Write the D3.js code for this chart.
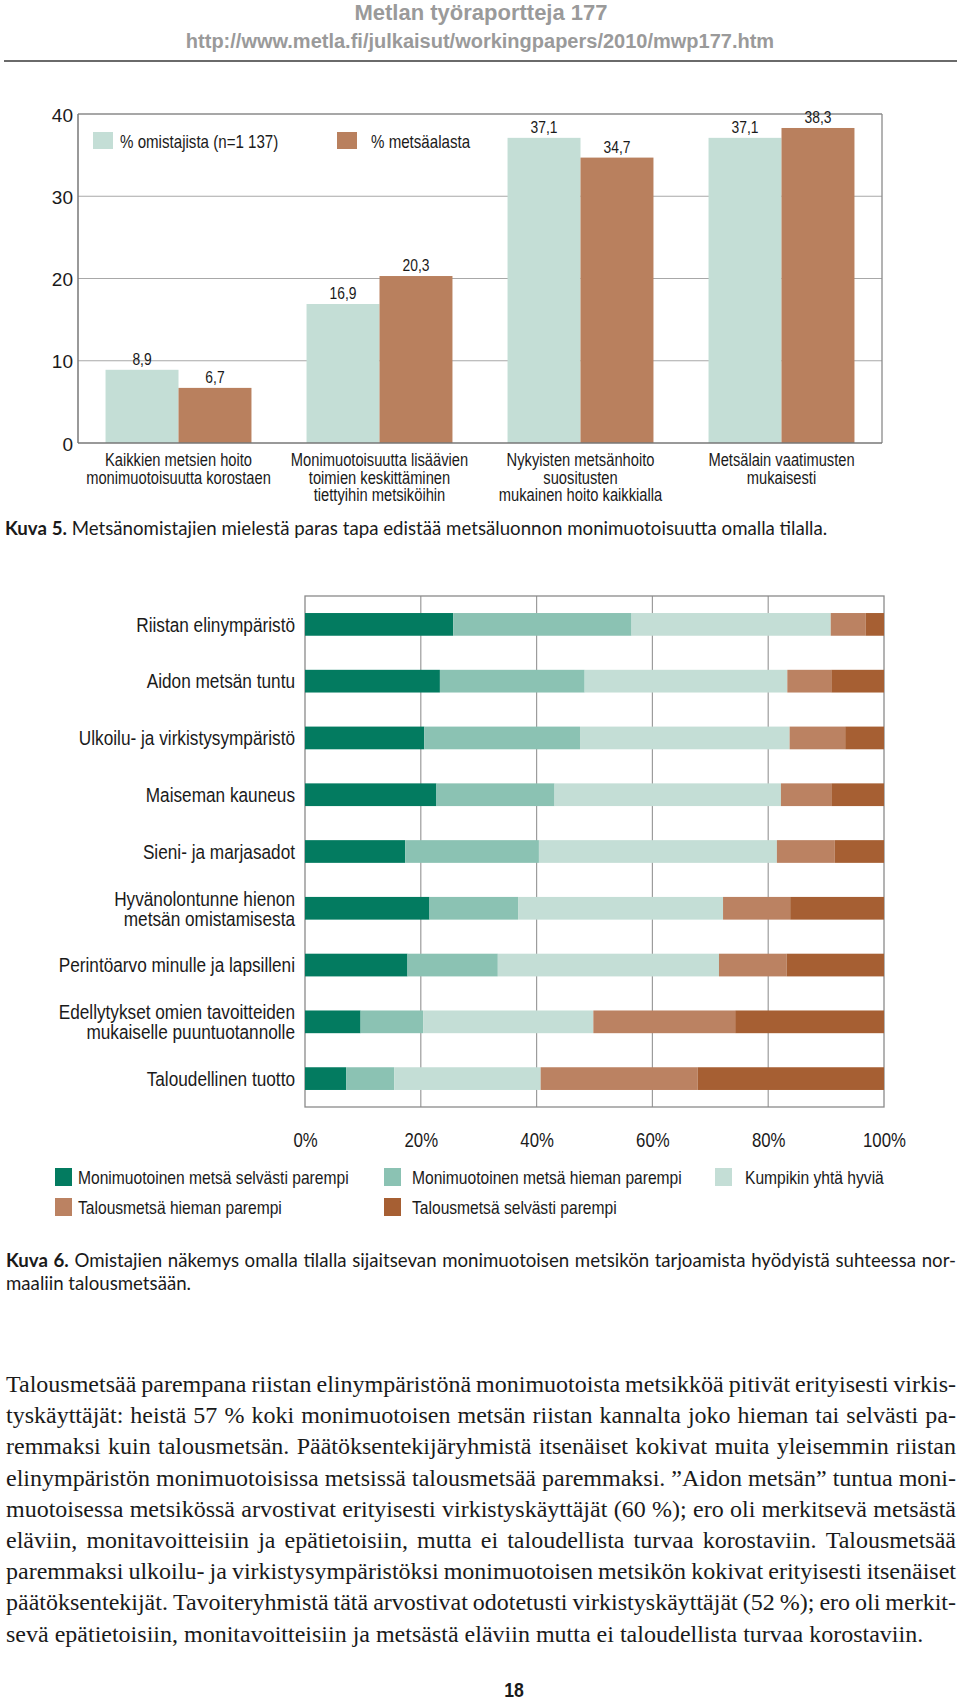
<!DOCTYPE html>
<html><head><meta charset="utf-8">
<script src="https://cdn.jsdelivr.net/npm/d3@7"></script>
<style>body{margin:0;background:#fff}svg{display:block}</style>
</head><body>
<script>
// ---------- DATA ----------
const pageTitle = "Metlan työraportteja 177";
const pageUrl = "http://www.metla.fi/julkaisut/workingpapers/2010/mwp177.htm";

const barCategories = [
  "Kaikkien metsien hoito\nmonimuotoisuutta korostaen",
  "Monimuotoisuutta lisäävien\ntoimien keskittäminen\ntiettyihin metsiköihin",
  "Nykyisten metsänhoito\nsuositusten\nmukainen hoito kaikkialla",
  "Metsälain vaatimusten\nmukaisesti"
];
const barSeriesNames = ["% omistajista (n=1 137)", "% metsäalasta"];
const ownersPct = [8.9, 16.9, 37.1, 37.1];
const areaPct = [6.7, 20.3, 34.7, 38.3];
const barTicks = [0, 10, 20, 30, 40];
const caption5Bold = "Kuva 5.";
const caption5Text = "Metsänomistajien mielestä paras tapa edistää metsäluonnon monimuotoisuutta omalla tilalla.";

const benefitCategories = [
  "Riistan elinympäristö",
  "Aidon metsän tuntu",
  "Ulkoilu- ja virkistysympäristö",
  "Maiseman kauneus",
  "Sieni- ja marjasadot",
  "Hyvänolontunne hienon\nmetsän omistamisesta",
  "Perintöarvo minulle ja lapsilleni",
  "Edellytykset omien tavoitteiden\nmukaiselle puuntuotannolle",
  "Taloudellinen tuotto"
];
const answerLabels = [
  "Monimuotoinen metsä selvästi parempi",
  "Monimuotoinen metsä hieman parempi",
  "Kumpikin yhtä hyviä",
  "Talousmetsä hieman parempi",
  "Talousmetsä selvästi parempi"
];
const clearlyDiverse   = [25.6, 23.3, 20.6, 22.7, 17.3, 21.5, 17.7,  9.6,  7.1];
const slightlyDiverse  = [30.8, 25.0, 26.9, 20.4, 23.1, 15.3, 15.6, 10.8,  8.3];
const bothEqual        = [34.4, 35.0, 36.2, 39.1, 41.1, 35.4, 38.2, 29.4, 25.3];
const slightlyEconomic = [ 6.0,  7.6,  9.6,  8.7, 10.0, 11.6, 11.7, 24.5, 27.1];
const clearlyEconomic  = [ 3.2,  9.1,  6.7,  9.1,  8.5, 16.2, 16.8, 25.7, 32.2];
const percentTicks = [0, 20, 40, 60, 80, 100];
const caption6Bold = "Kuva 6.";
const caption6Lines = [
  "Omistajien näkemys omalla tilalla sijaitsevan monimuotoisen metsikön tarjoamista hyödyistä suhteessa nor-",
  "maaliin talousmetsään."
];
const bodyLines = [
  "Talousmetsää parempana riistan elinympäristönä monimuotoista metsikköä pitivät erityisesti virkis-",
  "tyskäyttäjät: heistä 57 % koki monimuotoisen metsän riistan kannalta joko hieman tai selvästi pa-",
  "remmaksi kuin talousmetsän. Päätöksentekijäryhmistä itsenäiset kokivat muita yleisemmin riistan",
  "elinympäristön monimuotoisissa metsissä talousmetsää paremmaksi. ”Aidon metsän” tuntua moni-",
  "muotoisessa metsikössä arvostivat erityisesti virkistyskäyttäjät (60 %); ero oli merkitsevä metsästä",
  "eläviin, monitavoitteisiin ja epätietoisiin, mutta ei taloudellista turvaa korostaviin. Talousmetsää",
  "paremmaksi ulkoilu- ja virkistysympäristöksi monimuotoisen metsikön kokivat erityisesti itsenäiset",
  "päätöksentekijät. Tavoiteryhmistä tätä arvostivat odotetusti virkistyskäyttäjät (52 %); ero oli merkit-",
  "sevä epätietoisiin, monitavoitteisiin ja metsästä eläviin mutta ei taloudellista turvaa korostaviin."
];
const pageNumber = "18";

// ---------- STYLE ----------
const SANS = "'Liberation Sans',Arial,sans-serif";
const SERIF = "'Liberation Serif','Times New Roman',serif";
const CAP = "Lato,'Open Sans',sans-serif";
const NS = 0.84; // horizontal condensation for the narrow chart font
const cLight = "#c4ded6", cBrown = "#b9805e";
const stackColors = ["#037b60", "#8bc2b3", "#c4ded6", "#bb8262", "#a65f33"];
const ink = "#1a1a1a";

const W = 960, H = 1700;
const svg = d3.select("body").append("svg").attr("width", W).attr("height", H);

// condensed text helper
function ntext(parent, x, y, str, size, anchor, weight) {
  const g = parent.append("g").attr("transform", `translate(${x},${y}) scale(${NS},1)`);
  return g.append("text").attr("x", 0).attr("y", 0).attr("text-anchor", anchor || "start")
    .style("font-family", SANS).style("font-size", size + "px").style("font-weight", weight || 400)
    .attr("fill", ink).text(str);
}

// ---------- HEADER ----------
svg.append("text").attr("x", 481).attr("y", 20).attr("text-anchor", "middle")
  .style("font-family", SANS).style("font-weight", 700).style("font-size", "22px")
  .attr("fill", "#9a9a9a").text(pageTitle);
svg.append("text").attr("x", 480).attr("y", 48).attr("text-anchor", "middle")
  .style("font-family", SANS).style("font-weight", 700).style("font-size", "20px")
  .attr("fill", "#9a9a9a").text(pageUrl);
svg.append("line").attr("x1", 4).attr("x2", 957).attr("y1", 61).attr("y2", 61)
  .attr("stroke", "#6a6a6a").attr("stroke-width", 2);

// ---------- CHART 1 ----------
const c1 = svg.append("g");
const p1 = {l: 78, r: 882, t: 114, b: 443};
const x0 = d3.scaleBand().domain(d3.range(barCategories.length)).range([p1.l, p1.r])
  .paddingInner(0.274).paddingOuter(0.137);
const x1 = d3.scaleBand().domain([0, 1]).range([0, x0.bandwidth()]);
const y1 = d3.scaleLinear().domain([0, 40]).range([p1.b, p1.t]);

c1.selectAll(".grid").data(barTicks.filter(v => v > 0 && v < 40)).enter().append("line")
  .attr("x1", p1.l).attr("x2", p1.r).attr("y1", d => y1(d)).attr("y2", d => y1(d))
  .attr("stroke", "#a8a8a8").attr("stroke-width", 1.2);
c1.append("line").attr("x1", p1.l).attr("x2", p1.r).attr("y1", y1(40)).attr("y2", y1(40))
  .attr("stroke", "#8a8a8a").attr("stroke-width", 1.3);
c1.append("line").attr("x1", p1.r).attr("x2", p1.r).attr("y1", y1(40)).attr("y2", y1(0))
  .attr("stroke", "#8a8a8a").attr("stroke-width", 1.3);

const barData = barCategories.map((c, i) => [ownersPct[i], areaPct[i]]);
const groups = c1.selectAll(".grp").data(barData).enter().append("g")
  .attr("transform", (d, i) => `translate(${x0(i)},0)`);
groups.selectAll("rect").data(d => d).enter().append("rect")
  .attr("x", (d, j) => x1(j)).attr("width", x1.bandwidth())
  .attr("y", d => y1(d)).attr("height", d => y1(0) - y1(d))
  .attr("fill", (d, j) => j === 0 ? cLight : cBrown);
groups.each(function(d) {
  const g = d3.select(this);
  d.forEach((v, j) => {
    ntext(g, x1(j) + x1.bandwidth() / 2, y1(v) - 5, d3.format(".1f")(v).replace(".", ","), 16.5, "middle");
  });
});

// axes lines
c1.append("line").attr("x1", p1.l).attr("x2", p1.l).attr("y1", y1(40)).attr("y2", y1(0))
  .attr("stroke", "#777").attr("stroke-width", 1.5);
c1.append("line").attr("x1", p1.l).attr("x2", p1.r).attr("y1", y1(0)).attr("y2", y1(0))
  .attr("stroke", "#777").attr("stroke-width", 1.5);

const yAxis1 = d3.axisLeft(y1).tickValues(barTicks).tickSize(0).tickPadding(5);
const ya = c1.append("g").attr("transform", `translate(${p1.l},0)`).call(yAxis1);
ya.select(".domain").remove();
ya.selectAll("text").style("font-family", SANS).style("font-size", "19px").attr("fill", ink).attr("dy", "0.38em");

// legend 1
const leg1 = [{x: 93, tx: 120, c: cLight}, {x: 337, tx: 371, c: cBrown}];
barSeriesNames.forEach((n, i) => {
  c1.append("rect").attr("x", leg1[i].x).attr("y", 132).attr("width", 20).attr("height", 17).attr("fill", leg1[i].c);
  ntext(c1, leg1[i].tx, 148, n, 18, "start");
});

// category labels
barCategories.forEach((c, i) => {
  c.split("\n").forEach((ln, k) => {
    ntext(c1, x0(i) + x0.bandwidth() / 2, 466 + k * 17.5, ln, 17.5, "middle");
  });
});

// ---------- helpers for paragraph text ----------
function measure(str, font, size, weight) {
  const t = svg.append("text").style("font-family", font).style("font-size", size + "px")
    .style("font-weight", weight || 400).text(str);
  const w = t.node().getComputedTextLength(); t.remove(); return w;
}
// lays out words on one line; cx = base horizontal condensation of the font
function placeWords(parent, words, x0p, x1p, y, font, size, justify, minGapEm, cx) {
  cx = cx || 1;
  const avail = (x1p - x0p) / cx;
  const t = parent.append("text").attr("y", y).style("font-family", font)
    .style("font-size", size + "px").attr("fill", ink);
  const spans = words.map(w => t.append("tspan").style("font-weight", w.bold ? 700 : 400).text(w.t));
  const widths = spans.map(s => s.node().getComputedTextLength());
  const sp = measure("a a", font, size) - measure("aa", font, size);
  const total = d3.sum(widths);
  let gap = justify && words.length > 1 ? (avail - total) / (words.length - 1) : sp;
  const mg = (minGapEm || 0) * size;
  let sx = 1;
  if (justify && gap < mg) {
    gap = mg;
    sx = avail / (total + mg * (words.length - 1));
  }
  let x = 0;
  spans.forEach((s, i) => { s.attr("x", x); x += widths[i] + gap; });
  t.attr("transform", `translate(${x0p},0) scale(${sx * cx},1)`);
  return t;
}
function toWords(str, boldPrefix) {
  const arr = [];
  if (boldPrefix) boldPrefix.split(" ").forEach(w => arr.push({t: w, bold: true}));
  str.split(" ").forEach(w => arr.push({t: w, bold: false}));
  return arr;
}

// caption 5 (fit natural width to 823px)
let capSize = 18;
{
  const base = 18;
  const words = toWords(caption5Text, caption5Bold);
  const ww = d3.sum(words, w => measure(w.t, CAP, base, w.bold ? 700 : 400));
  const spw = measure("a a", CAP, base) - measure("aa", CAP, base);
  const nat = ww + spw * (words.length - 1);
  capSize = Math.min(19, base * 823 / nat);
  placeWords(svg, words, 5, 828, 535, CAP, capSize, false);
}

// ---------- CHART 2 ----------
const c2 = svg.append("g");
const p2 = {l: 305, r: 884, t: 596, b: 1107};
const x2 = d3.scaleLinear().domain([0, 100]).range([p2.l, p2.r]);
const y2 = d3.scaleBand().domain(benefitCategories).range([p2.t, p2.b]).paddingInner(0.6).paddingOuter(0.3);

const rows = benefitCategories.map((c, i) => ({cat: c, a: clearlyDiverse[i], b: slightlyDiverse[i], c: bothEqual[i], d: slightlyEconomic[i], e: clearlyEconomic[i]}));
const series = d3.stack().keys(["a", "b", "c", "d", "e"])(rows);

c2.selectAll(".vg").data(percentTicks.filter(v => v > 0 && v < 100)).enter().append("line")
  .attr("x1", d => x2(d)).attr("x2", d => x2(d)).attr("y1", p2.t).attr("y2", p2.b)
  .attr("stroke", "#9c9c9c").attr("stroke-width", 1.2);
c2.append("rect").attr("x", p2.l).attr("y", p2.t).attr("width", p2.r - p2.l).attr("height", p2.b - p2.t)
  .attr("fill", "none").attr("stroke", "#8a8a8a").attr("stroke-width", 1.3);

c2.selectAll(".ser").data(series).enter().append("g").attr("fill", (d, i) => stackColors[i])
  .selectAll("rect").data(d => d).enter().append("rect")
  .attr("x", d => x2(d[0])).attr("width", d => x2(d[1]) - x2(d[0]))
  .attr("y", d => y2(d.data.cat)).attr("height", y2.bandwidth());

// row labels
benefitCategories.forEach(c => {
  const lines = c.split("\n");
  const cy = y2(c) + y2.bandwidth() / 2;
  lines.forEach((ln, k) => {
    ntext(c2, 295, cy + (k - (lines.length - 1) / 2) * 20 + 7.3, ln, 20.5, "end");
  });
});

// x tick labels (axis)
const xAxis2 = d3.axisBottom(x2).tickValues(percentTicks).tickSize(0).tickPadding(0).tickFormat(d => d + "%");
const xa = c2.append("g").attr("transform", `translate(0,1133)`).call(xAxis2);
xa.select(".domain").remove();
xa.selectAll("text").style("font-family", SANS).style("font-size", "20px").attr("fill", ink)
  .attr("transform", `scale(${NS},1)`);

// legend 2
const leg2 = [
  {x: 55, y: 1168, tx: 78}, {x: 384, y: 1168, tx: 412}, {x: 715, y: 1168, tx: 745},
  {x: 55, y: 1198, tx: 78}, {x: 384, y: 1198, tx: 412}
];
answerLabels.forEach((n, i) => {
  c2.append("rect").attr("x", leg2[i].x).attr("y", leg2[i].y).attr("width", 17).attr("height", 18).attr("fill", stackColors[i]);
  ntext(c2, leg2[i].tx, leg2[i].y + 16, n, 18.6, "start");
});

// caption 6
placeWords(svg, toWords(caption6Lines[0], caption6Bold), 6, 956, 1267, CAP, capSize, true, 0.15);
placeWords(svg, toWords(caption6Lines[1]), 6, 956, 1290, CAP, capSize, false);

// body text
bodyLines.forEach((l, i) => {
  placeWords(svg, toWords(l), 6, 956, 1392 + i * 31.2, SERIF, 24, i < bodyLines.length - 1, 0.12, 1);
});

// page number
ntext(svg, 514, 1697, pageNumber, 21, "middle", 700);
</script>
</body></html>
